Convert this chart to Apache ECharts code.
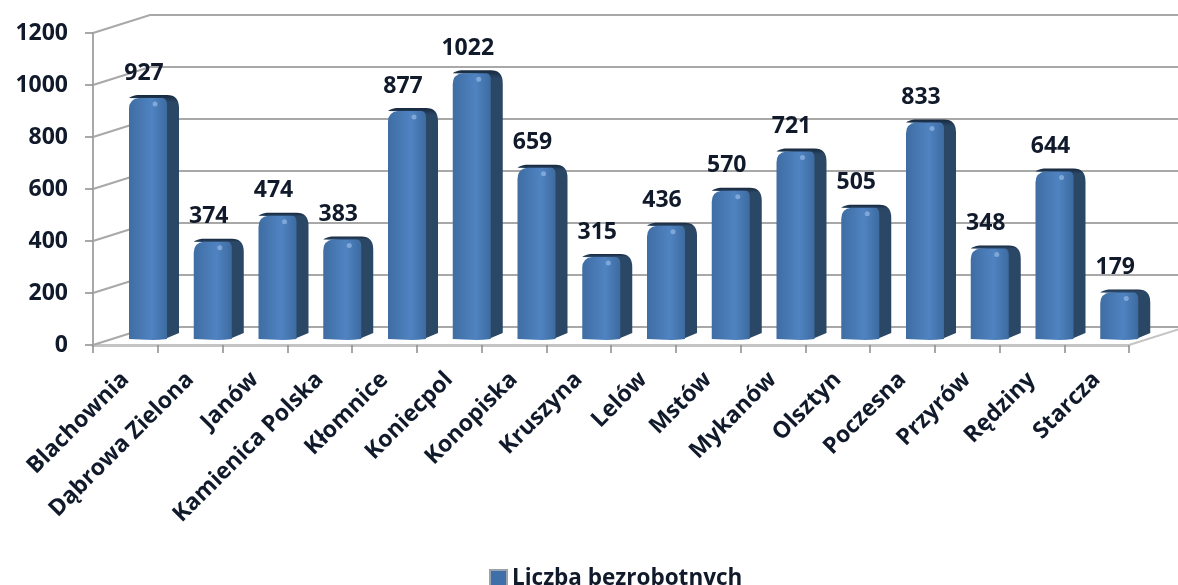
<!DOCTYPE html>
<html>
<head>
<meta charset="utf-8">
<title>Liczba bezrobotnych</title>
<script src="https://cdn.jsdelivr.net/npm/echarts@6/dist/echarts.min.js"></script>
<style>
    html, body { margin: 0; padding: 0; background: #fff; }
    #main { width: 1178px; height: 585px; filter: blur(0.6px); }
</style>
</head>
<body>
<div id="main"></div>
<script>
var categories = ['Blachownia', 'Dąbrowa Zielona', 'Janów', 'Kamienica Polska', 'Kłomnice', 'Koniecpol', 'Konopiska', 'Kruszyna', 'Lelów', 'Mstów', 'Mykanów', 'Olsztyn', 'Poczesna', 'Przyrów', 'Rędziny', 'Starcza'];
var values = [927, 374, 474, 383, 877, 1022, 659, 315, 436, 570, 721, 505, 833, 348, 644, 179];
var yTicks = [0, 200, 400, 600, 800, 1000, 1200];
var seriesName = 'Liczba bezrobotnych';

var depthX = 57, depthY = 18;   // glebokosc "3D"
var font = '"Open Sans", sans-serif';
var textColor = '#111a2b';

var myChart = echarts.init(document.getElementById('main'));

// sciana tylna i podloga
function renderWall(params, api) {
    var rect = params.coordSys;
    var y = api.coord([0, api.value(1)])[1];
    var x0 = rect.x, x1 = rect.x + rect.width;
    var pts = [[x0, y], [x0 + depthX, y - depthY], [1178, y - depthY]];
    var children = [{
        type: 'polyline',
        shape: { points: pts },
        style: { fill: null, stroke: '#a8a8a8', lineWidth: 2 }
    }];
    if (api.value(1) === 0) {
        children.push({
            type: 'line',
            shape: { x1: x1, y1: y, x2: x1 + depthX, y2: y - depthY },
            style: { stroke: '#c4c4c4', lineWidth: 2 }
        });
    }
    return { type: 'group', children: children };
}

// slupek: przod, bok, gora
function renderBar(params, api) {
    var p = api.coord([api.value(0), api.value(1)]);
    var base = api.coord([api.value(0), 0]);
    var band = api.size([1, 0])[0];
    var w = 38, sideW = 12, sideH = 6, r = 10;
    var x = base[0] - band / 2 + 36;
    var yb = base[1] - 6;
    var yt = p[1] - 5;
    var xr = x + w;

    var side = 'M' + xr + ' ' + yb +
        ' L' + (xr + sideW) + ' ' + (yb - sideH) +
        ' L' + (xr + sideW) + ' ' + (yt + r - 1) +
        ' Q' + (xr + sideW) + ' ' + (yt - 4) + ' ' + (xr + sideW - r) + ' ' + (yt - 4) +
        ' L' + (x + 15) + ' ' + (yt - 4) + ' Q' + (x + 10) + ' ' + (yt - 3) + ' ' + (x + 8) + ' ' + (yt - 1) +
        ' L' + xr + ' ' + yt + ' Z';
    var front = 'M' + x + ' ' + yb +
        ' L' + x + ' ' + (yt + r) +
        ' Q' + x + ' ' + yt + ' ' + (x + r) + ' ' + (yt - 1) +
        ' L' + (xr - 4) + ' ' + (yt - 1) +
        ' Q' + xr + ' ' + yt + ' ' + xr + ' ' + (yt + 5) +
        ' L' + xr + ' ' + yb + ' Q' + (xr - 8) + ' ' + (yb + 1) + ' ' + (xr - 14) + ' ' + (yb + 1) + ' Z';

    return {
        type: 'group',
        children: [{
            type: 'path',
            shape: { pathData: side, layout: 'cover', x: x, y: yt - 4, width: w + sideW, height: yb - yt + 4 },
            style: {
                fill: new echarts.graphic.LinearGradient(0, 0, 0, 1, [
                    { offset: 0, color: '#16283e' },
                    { offset: 0.03, color: '#2b4766' },
                    { offset: 1, color: '#2b4766' }
                ])
            }
        }, {
            type: 'path',
            shape: { pathData: front, layout: 'cover', x: x, y: yt - 1, width: w, height: yb - yt + 2 },
            style: {
                fill: new echarts.graphic.LinearGradient(0, 0, 1, 0, [
                    { offset: 0, color: '#3f6da3' },
                    { offset: 0.6, color: '#4f83c1' },
                    { offset: 1, color: '#3d6ba0' }
                ])
            }
        }, {
            type: 'circle',
            shape: { cx: x + 26, cy: yt + 5, r: 2.5 },
            style: { fill: '#7fa8d9' }
        }, {
            type: 'text',
            style: {
                x: x + 15,
                y: yt - 26,
                text: String(api.value(1)),
                align: 'center',
                verticalAlign: 'middle',
                fill: textColor,
                font: 'bold 23px ' + font
            }
        }]
    };
}

var option = {
    animation: false,
    backgroundColor: '#fff',
    grid: { left: 93, right: 49, top: 33, bottom: 240 },
    legend: {
        data: [{ name: seriesName, icon: 'rect' }],
        left: 484,
        top: 562,
        itemWidth: 17,
        itemHeight: 17,
        itemGap: 6,
        textStyle: { color: textColor, fontFamily: font, fontWeight: 'bold', fontSize: 22.5 }
    },
    xAxis: {
        type: 'category',
        data: categories,
        axisLine: { lineStyle: { color: '#c4c4c4', width: 3 } },
        axisTick: { show: true, length: 8, lineStyle: { color: '#8c8c8c', width: 1.5 } },
        axisLabel: {
            rotate: 45,
            interval: 0,
            margin: 31,
            color: textColor,
            fontFamily: font,
            fontWeight: 'bold',
            fontSize: 23
        }
    },
    yAxis: {
        type: 'value',
        min: 0,
        max: 1200,
        interval: 200,
        axisLine: { show: true, lineStyle: { color: '#a8a8a8', width: 2 } },
        axisTick: { show: true, length: 8, lineStyle: { color: '#8c8c8c', width: 1.5 } },
        splitLine: { show: false },
        axisLabel: {
            margin: 25,
            color: textColor,
            fontFamily: font,
            fontWeight: 'bold',
            fontSize: 23,
            formatter: function(v) { return String(v); }
        }
    },
    series: [{
        type: 'custom',
        name: 'wall',
        silent: true,
        clip: false,
        renderItem: renderWall,
        data: yTicks.map(function(v) { return [0, v]; }),
        z: 1
    }, {
        type: 'custom',
        name: seriesName,
        clip: false,
        renderItem: renderBar,
        itemStyle: { color: '#3f6fa8', borderColor: '#9aa3ad', borderWidth: 1 },
        data: values.map(function(v, i) { return [i, v]; }),
        encode: { x: 0, y: 1 },
        z: 3
    }]
};

myChart.setOption(option);
</script>
</body>
</html>
